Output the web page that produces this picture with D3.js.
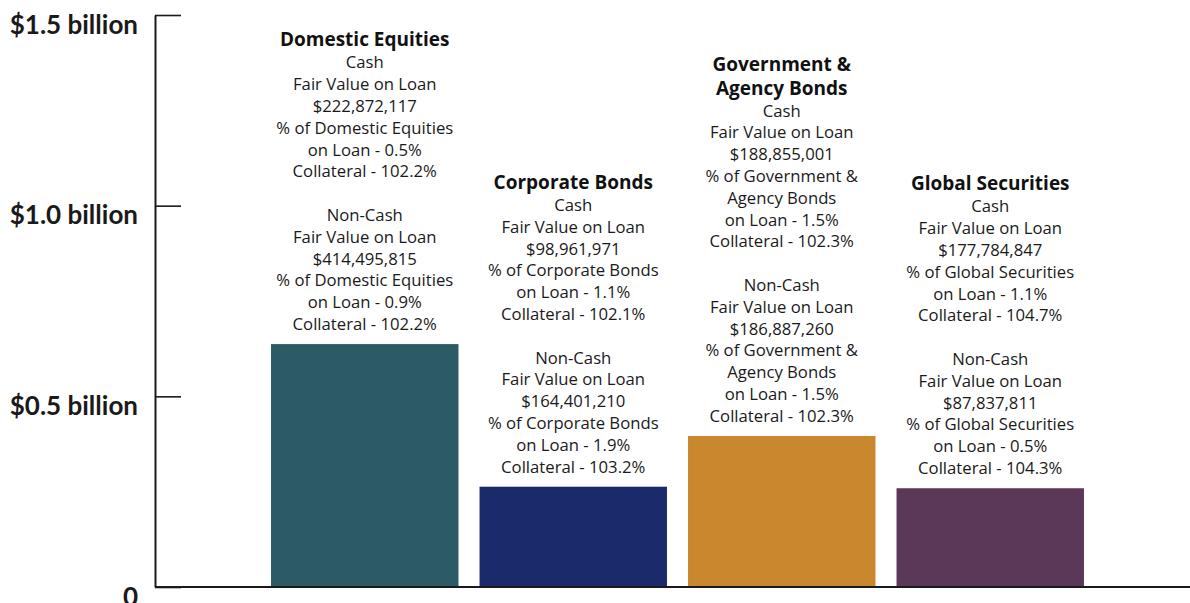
<!DOCTYPE html>
<html>
<head>
<meta charset="utf-8">
<script src="https://cdn.jsdelivr.net/npm/d3@7"></script>
<style>
	body{margin:0;background:#fff;}
	svg{display:block;}
	.note{font-family:"Open Sans",sans-serif;font-size:16.7px;fill:#1a1a1a;}
	.title{font-family:"Open Sans",sans-serif;font-size:19px;font-weight:700;fill:#111;}
	.yaxis text{font-family:"Lato",sans-serif;font-size:26px;font-weight:700;fill:#1a1a1a;}
</style>
</head>
<body>
<script>
//categories and bar heights (in billions)
var categories=["Domestic Equities","Corporate Bonds","Government & Agency Bonds","Global Securities"];
var totals=[0.637,0.263,0.396,0.259];
var colors=["#2c5a65","#1b2a6b","#c9872e","#5c3858"];

//title lines and the wording used in the "% of ..." lines
var titleLines=[["Domestic Equities"],["Corporate Bonds"],["Government &","Agency Bonds"],["Global Securities"]];
var pctLines=[["% of Domestic Equities"],["% of Corporate Bonds"],["% of Government &","Agency Bonds"],["% of Global Securities"]];

//cash lending numbers
var cashFair=["$222,872,117","$98,961,971","$188,855,001","$177,784,847"];
var cashPct=["0.5%","1.1%","1.5%","1.1%"];
var cashColl=["102.2%","102.1%","102.3%","104.7%"];

//non-cash lending numbers
var nonCashFair=["$414,495,815","$164,401,210","$186,887,260","$87,837,811"];
var nonCashPct=["0.9%","1.9%","1.5%","0.5%"];
var nonCashColl=["102.2%","103.2%","102.3%","104.3%"];

//tick values and their labels
var tickValues=[0,0.5,1.0,1.5];
var tickLabels=["0","$0.5 billion","$1.0 billion","$1.5 billion"];

var width=1190,height=603;

var svg=d3.select("body").append("svg")
	.attr("width",width)
	.attr("height",height);

var x=d3.scaleBand()
	.domain(categories)
	.range([260.5,1094.5])
	.paddingInner(0.101)
	.paddingOuter(0.0505);

var y=d3.scaleLinear()
	.domain([0,1.5])
	.range([587,15]);

//bars
svg.selectAll(".bar")
	.data(categories)
	.enter()
	.append("rect")
	.attr("class","bar")
	.attr("x",function(d){return x(d);})
	.attr("width",x.bandwidth())
	.attr("y",function(d,i){return y(totals[i]);})
	.attr("height",function(d,i){return y(0)-y(totals[i]);})
	.attr("fill",function(d,i){return colors[i];});

//y axis: ticks point inward, labels sit a bit under the tick
var yAxis=d3.axisLeft(y)
	.tickValues(tickValues)
	.tickFormat(function(d,i){return tickLabels[i];})
	.tickSizeInner(-26)
	.tickSizeOuter(0)
	.tickPadding(17);

var yg=svg.append("g")
	.attr("class","yaxis")
	.attr("transform","translate(155,0)")
	.call(yAxis);
yg.select(".domain").attr("stroke","#1a1a1a").attr("stroke-width",2);
yg.selectAll(".tick line").attr("stroke","#1a1a1a").attr("stroke-width",1.6);
yg.selectAll(".tick text").attr("dy",18);

//baseline along the bottom
svg.append("line")
	.attr("x1",155).attr("x2",width)
	.attr("y1",y(0)).attr("y2",y(0))
	.attr("stroke","#1a1a1a")
	.attr("stroke-width",2);

//annotation blocks above each bar, built bottom-up from the bar top
var lh=21.8;
categories.forEach(function(c,i){
	var lines=[];
	titleLines[i].forEach(function(t){lines.push({t:t,cls:"title"});});
	lines.push({t:"Cash",cls:"note"});
	lines.push({t:"Fair Value on Loan",cls:"note"});
	lines.push({t:cashFair[i],cls:"note"});
	pctLines[i].forEach(function(t){lines.push({t:t,cls:"note"});});
	lines.push({t:"on Loan - "+cashPct[i],cls:"note"});
	lines.push({t:"Collateral - "+cashColl[i],cls:"note"});
	lines.push({t:"",cls:"note"});
	lines.push({t:"Non-Cash",cls:"note"});
	lines.push({t:"Fair Value on Loan",cls:"note"});
	lines.push({t:nonCashFair[i],cls:"note"});
	pctLines[i].forEach(function(t){lines.push({t:t,cls:"note"});});
	lines.push({t:"on Loan - "+nonCashPct[i],cls:"note"});
	lines.push({t:"Collateral - "+nonCashColl[i],cls:"note"});

	var cx=x(c)+x.bandwidth()/2;
	var bottom=y(totals[i])-20;
	var n=lines.length;
	var nTitle=titleLines[i].length;
	svg.selectAll(".lbl"+i)
		.data(lines)
		.enter()
		.append("text")
		.attr("class",function(d){return d.cls;})
		.attr("x",cx)
		.attr("y",function(d,k){
			var yy=bottom-(n-1-k)*lh;
			//two-line titles are set a touch looser
			if(k<nTitle-1) yy-= (nTitle-1-k)*2;
			if(k<nTitle) yy-=1;
			return yy;
		})
		.attr("dy","0.35em")
		.attr("text-anchor","middle")
		.text(function(d){return d.t;});
});
</script>
</body>
</html>
